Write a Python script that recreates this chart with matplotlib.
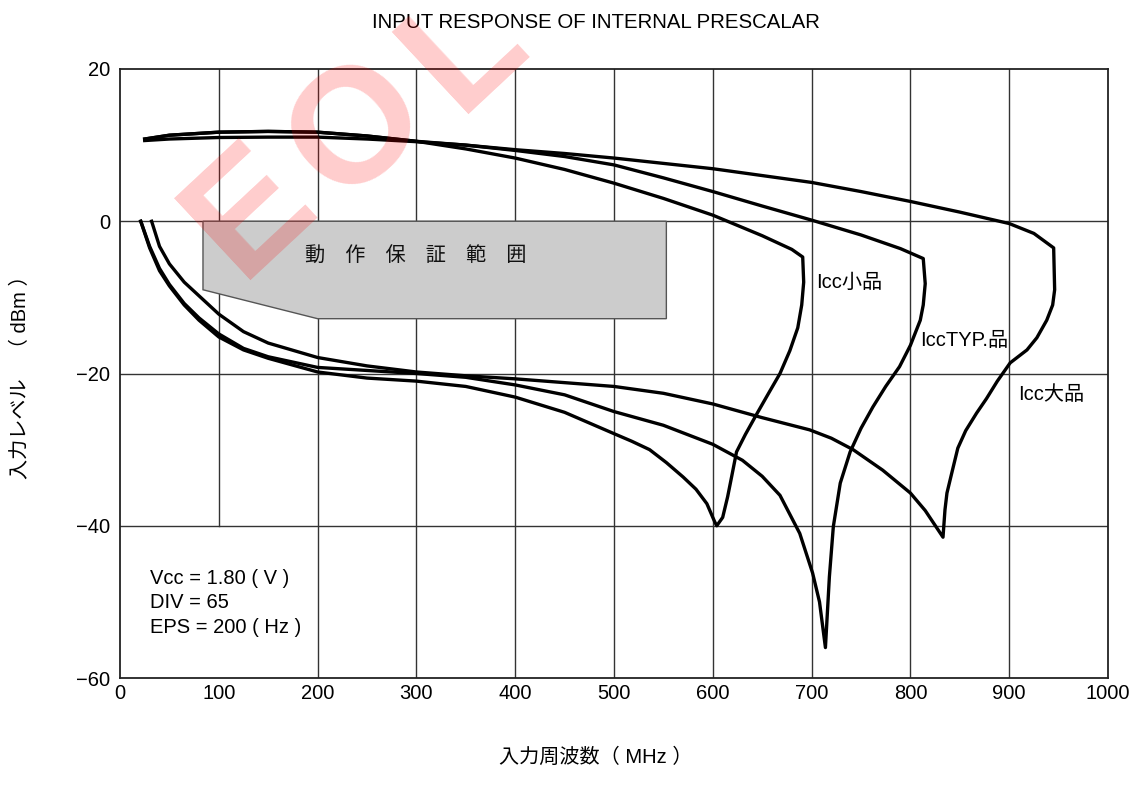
import matplotlib
matplotlib.use("Agg")
import matplotlib.pyplot as plt
from matplotlib.patches import Polygon

plt.rcParams['font.family'] = ['Liberation Sans', 'Noto Sans CJK JP', 'DejaVu Sans']

# Icc small: upper branch -> drop to dip -> lower branch back to the left
small_x = [25, 50, 100, 150, 200, 250, 300, 350, 400, 450, 500, 550, 600, 650, 680, 691,
           692, 690, 686, 678, 668, 656, 645, 633, 624, 619, 615, 610, 604,
           602, 594, 583, 570, 553, 536, 518, 500, 450, 400, 350, 300, 250, 200, 150, 125, 100, 80, 65, 50, 40, 30, 21]
small_y = [10.8, 11.3, 11.7, 11.8, 11.7, 11.2, 10.5, 9.5, 8.3, 6.8, 5.0, 3.0, 0.8, -1.9, -3.7, -4.7,
           -8.0, -11.0, -14.0, -17.0, -20.0, -22.7, -25.2, -28.0, -30.3, -33.6, -36.2, -38.9, -40.0,
           -39.5, -37.1, -35.2, -33.6, -31.7, -30.0, -28.9, -27.9, -25.1, -23.1, -21.7, -21.0, -20.6, -19.8, -18.0, -16.9, -15.2, -13.0, -11.0, -8.5, -6.5, -3.5, 0.0]

typ_x = [25, 50, 100, 150, 200, 250, 300, 350, 400, 450, 500, 550, 600, 650, 700, 750, 790, 813,
         815, 813, 810, 800, 789, 775, 762, 750, 739, 729, 722, 718, 714,
         708, 701, 688, 668, 650, 630, 600, 550, 500, 450, 400, 350, 300, 250, 200, 150, 125, 100, 80, 65, 50, 40, 30, 21]
typ_y = [10.8, 11.3, 11.7, 11.8, 11.7, 11.2, 10.5, 10.0, 9.3, 8.5, 7.4, 5.7, 3.9, 2.0, 0.15, -1.8, -3.6, -4.9,
         -8.2, -11.0, -13.0, -16.3, -19.1, -21.7, -24.4, -27.2, -30.3, -34.4, -40.1, -46.7, -56.0,
         -50.0, -46.2, -41.0, -36.0, -33.5, -31.4, -29.3, -26.8, -25.0, -22.8, -21.5, -20.5, -20.0, -19.6, -19.2, -17.8, -16.7, -14.8, -12.7, -10.8, -8.3, -6.2, -3.3, 0.0]

large_x = [25, 50, 100, 150, 200, 250, 300, 350, 400, 450, 500, 550, 600, 650, 700, 750, 800, 850, 900, 925, 945,
           946, 944, 938, 928, 918, 901, 888, 877, 867, 856, 848, 842, 837, 835, 833,
           815, 800, 772, 742, 720, 698, 650, 600, 550, 500, 450, 400, 350, 300, 250, 200, 150, 125, 100, 80, 65, 50, 40, 32]
large_y = [10.6, 10.8, 11.0, 11.05, 11.05, 10.8, 10.45, 10.0, 9.4, 8.9, 8.3, 7.6, 6.9, 6.0, 5.1, 3.9, 2.6, 1.2, -0.3, -1.6, -3.5,
           -9.0, -11.0, -13.0, -15.3, -16.9, -18.6, -21.0, -23.3, -25.2, -27.5, -29.8, -33.0, -35.7, -37.9, -41.5,
           -38.0, -35.7, -32.7, -30.0, -28.5, -27.4, -25.8, -24.0, -22.6, -21.7, -21.2, -20.7, -20.3, -19.8, -19.0, -17.9, -16.0, -14.5, -12.2, -9.8, -8.0, -5.6, -3.3, 0.0]

# guaranteed operating range (shaded)
zone_x = [84, 553, 553, 200, 84]
zone_y = [0, 0, -12.8, -12.8, -9]

curve_labels = ['Icc小品', 'IccTYP.品', 'Icc大品']
label_pos = [(705, -8.1), (810, -15.6), (909, -22.8)]

x_ticks = [0, 100, 200, 300, 400, 500, 600, 700, 800, 900, 1000]
y_ticks = [-60, -40, -20, 0, 20]

fig = plt.figure(figsize=(11.32, 7.92), dpi=100)
ax = fig.add_axes([0.106, 0.1439, 0.8728, 0.769])
ax.set_xlim(0, 1000)
ax.set_ylim(-60, 20)

# grid (line at 100 MHz stops at -40 dBm)
for xv in x_ticks[1:-1]:
    ybot = -40 if xv == 100 else -60
    ax.plot([xv, xv], [ybot, 20], color='#333333', lw=1.0, zorder=1)
for yv in y_ticks[1:-1]:
    ax.plot([0, 1000], [yv, yv], color='#333333', lw=1.0, zorder=1)

ax.add_patch(Polygon(list(zip(zone_x, zone_y)), closed=True, facecolor='#cccccc',
                     edgecolor='#555555', lw=1.0, zorder=2))
ax.text(299, -4.6, '動　作　保　証　範　囲', ha='center', va='center', fontsize=14.5,
        color='#111111', zorder=3)

# "EOL" stamp, one letter at a time along the diagonal
for ch, (fx, fy) in zip('EOL', [(0.222, 0.733), (0.3166, 0.8359), (0.4111, 0.9381)]):
    fig.text(fx, fy, ch, color='red', alpha=0.2, fontsize=118, fontweight='bold',
             rotation=43, ha='center', va='center', zorder=4)

for xs, ys in [(small_x, small_y), (typ_x, typ_y), (large_x, large_y)]:
    ax.plot(xs, ys, color='black', lw=2.4, zorder=5, solid_joinstyle='round')

for lab, (lx, ly) in zip(curve_labels, label_pos):
    ax.text(lx, ly, lab, fontsize=14.5, ha='left', va='center', zorder=6)

ax.text(30, -46.9, 'Vcc = 1.80 ( V )', fontsize=14.5, va='center', zorder=6)
ax.text(30, -50.1, 'DIV = 65', fontsize=14.5, va='center', zorder=6)
ax.text(30, -53.3, 'EPS = 200 ( Hz )', fontsize=14.5, va='center', zorder=6)

ax.set_xticks(x_ticks)
ax.set_yticks(y_ticks)
ax.tick_params(length=0, labelsize=14.5)
ax.tick_params(axis='x', pad=4)
ax.tick_params(axis='y', pad=7)
for s in ax.spines.values():
    s.set_color('#222222')
    s.set_linewidth(1.3)

fig.text(0.5265, 0.972, 'INPUT RESPONSE OF INTERNAL PRESCALAR', ha='center', va='center', fontsize=14.7)
fig.text(0.5265, 0.044, '入力周波数（ MHz ）', ha='center', va='center', fontsize=14.5)
fig.text(0.018, 0.53, '入力レベル　（ dBm ）', ha='center', va='center', rotation=90, fontsize=14.5)

fig.savefig('out.png', dpi=100)
